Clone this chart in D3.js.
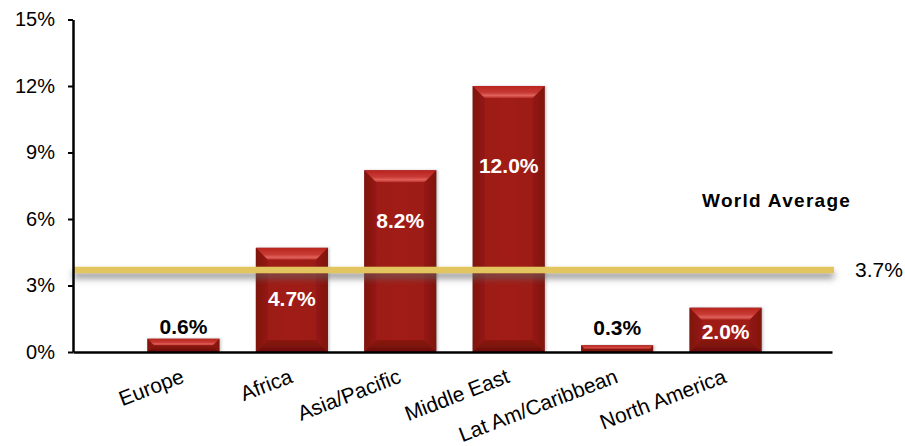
<!DOCTYPE html>
<html>
<head>
<meta charset="utf-8">
<script src="https://cdn.jsdelivr.net/npm/d3@7"></script>
<style>
  html, body { margin: 0; padding: 0; background: #fff; }
  svg { display: block; font-family: "Liberation Sans", Arial, sans-serif; }
</style>
</head>
<body>
<svg id="chart" width="905" height="446"></svg>
<script>
// ---- data ----
const categories = ["Europe", "Africa", "Asia/Pacific", "Middle East", "Lat Am/Caribbean", "North America"];
const values = [0.6, 4.7, 8.2, 12.0, 0.3, 2.0];
const valueLabels = ["0.6%", "4.7%", "8.2%", "12.0%", "0.3%", "2.0%"];
const yTicks = [0, 3, 6, 9, 12, 15];
const worldAverage = 3.7;
const worldAverageLabel = "3.7%";
const worldAverageTitle = "World Average";

(function () {
// ---- layout (not data) ----
const labelOffsets = [-12, 51, 50, 79, -18, 24]; // label center relative to bar top
const labelInside = [false, true, true, true, false, true];

const svg = d3.select("#chart");
const mLeft = 73, mRight = 832, mTop = 19.5, mBottom = 352;

const x = d3.scalePoint().domain(categories).range([mLeft + 2, mRight + 2]).padding(1);
const y = d3.scaleLinear().domain([0, 15]).range([mBottom, mTop]);
const barW = 72;

const defs = svg.append("defs");
const mk = (id, stops, vertical) => {
  const g = defs.append("linearGradient").attr("id", id)
    .attr("x1", 0).attr("y1", 0).attr("x2", vertical ? 0 : 1).attr("y2", vertical ? 1 : 0);
  stops.forEach(s => g.append("stop").attr("offset", s[0]).attr("stop-color", s[1]));
};
mk("gBody", [[0, "#861410"], [0.12, "#9C1A15"], [0.5, "#A11C17"], [0.88, "#9C1A15"], [1, "#861410"]], false);
mk("gTop", [[0, "#B8241F"], [0.55, "#C83A34"], [0.8, "#E0625C"], [1, "#B72C26"]], true);
mk("gBot", [[0, "#8A1511"], [1, "#6E0F0C"]], true);
mk("gLeft", [[0, "#7E120F"], [1, "#951813"]], false);
mk("gRight", [[0, "#951813"], [1, "#7E120F"]], false);

const shadow = defs.append("filter").attr("id", "lineShadow")
  .attr("filterUnits", "userSpaceOnUse")
  .attr("x", 60).attr("y", 250).attr("width", 800).attr("height", 50);
shadow.append("feDropShadow").attr("dx", 0).attr("dy", 5).attr("stdDeviation", 3.5)
  .attr("flood-color", "#666").attr("flood-opacity", 0.75);

const barShadow = defs.append("filter").attr("id", "barShadow")
  .attr("x", "-10%").attr("y", "-10%").attr("width", "125%").attr("height", "120%");
barShadow.append("feDropShadow").attr("dx", 1.5).attr("dy", 0).attr("stdDeviation", 1)
  .attr("flood-color", "#999").attr("flood-opacity", 0.5);

// ---- bars ----
const bars = svg.append("g").selectAll("g.bar").data(categories).join("g").attr("class", "bar")
  .attr("filter", "url(#barShadow)");
bars.each(function(c, i) {
  const g = d3.select(this);
  const x0 = x(c) - barW / 2, x1 = x(c) + barW / 2;
  const y0 = y(values[i]), y1 = y(0);
  const h = y1 - y0;
  const b = Math.min(12, h / 2);
  g.append("rect").attr("x", x0).attr("y", y0).attr("width", barW).attr("height", h).attr("fill", "url(#gBody)");
  const poly = (pts, fill) => g.append("polygon").attr("points", pts.map(p => p.join(",")).join(" ")).attr("fill", fill);
  poly([[x0, y0], [x0 + b, y0 + b], [x0 + b, y1 - b], [x0, y1]], "url(#gLeft)");
  poly([[x1, y0], [x1 - b, y0 + b], [x1 - b, y1 - b], [x1, y1]], "url(#gRight)");
  poly([[x0, y1], [x0 + b, y1 - b], [x1 - b, y1 - b], [x1, y1]], "url(#gBot)");
  poly([[x0, y0], [x1, y0], [x1 - b, y0 + b], [x0 + b, y0 + b]], "url(#gTop)");
});

// ---- world average line ----
svg.append("line")
  .attr("x1", mLeft).attr("x2", 834)
  .attr("y1", y(worldAverage)).attr("y2", y(worldAverage))
  .attr("stroke", "#E3C55E").attr("stroke-width", 6.5)
  .attr("filter", "url(#lineShadow)");

svg.append("text").attr("x", 855).attr("y", y(worldAverage))
  .attr("dominant-baseline", "central").attr("font-size", 21).attr("fill", "#000")
  .text(worldAverageLabel);

svg.append("text").attr("x", 702).attr("y", 200)
  .attr("dominant-baseline", "central").attr("font-size", 19).attr("font-weight", "bold")
  .attr("letter-spacing", 1.3).attr("fill", "#000")
  .text(worldAverageTitle);

// ---- value labels ----
svg.append("g").selectAll("text").data(categories).join("text")
  .attr("x", c => x(c))
  .attr("y", (c, i) => y(values[i]) + labelOffsets[i])
  .attr("text-anchor", "middle").attr("dominant-baseline", "central")
  .attr("font-size", 21).attr("font-weight", "bold")
  .attr("fill", (c, i) => labelInside[i] ? "#fff" : "#000")
  .text((c, i) => valueLabels[i]);

// ---- axes ----
const yAxis = d3.axisLeft(y).tickValues(yTicks).tickFormat(d => d + "%")
  .tickSize(5).tickSizeOuter(0).tickPadding(13);
const ya = svg.append("g").attr("transform", `translate(${mLeft},0)`).call(yAxis);
ya.select(".domain").attr("stroke", "#000").attr("stroke-width", 2.5);
ya.selectAll(".tick line").attr("stroke", "#000").attr("stroke-width", 2);
ya.selectAll(".tick text").attr("font-size", 20).attr("fill", "#000")
  .attr("font-family", "Liberation Sans, Arial, sans-serif");

const xAxis = d3.axisBottom(x.copy().range([mLeft, mRight])).tickSize(0).tickSizeOuter(0).tickFormat("");
const xa = svg.append("g").attr("transform", `translate(0,${mBottom})`).call(xAxis);
xa.select(".domain").attr("stroke", "#000").attr("stroke-width", 2.5);

// ---- category labels ----
svg.append("g").selectAll("text").data(categories).join("text")
  .attr("transform", c => `translate(${x(c) + 2},382) rotate(-21)`)
  .attr("text-anchor", "end").attr("font-size", 21).attr("fill", "#000")
  .text(c => c);
})();
</script>
</body>
</html>
